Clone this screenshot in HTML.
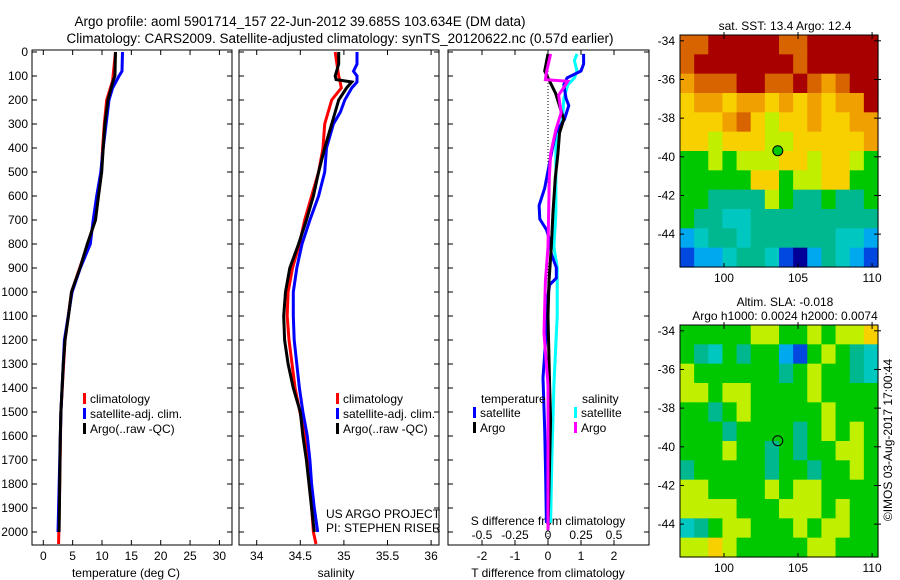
<!DOCTYPE html>
<html><head><meta charset="utf-8">
<style>
body{margin:0;background:#fff;}
svg{display:block;font-family:"Liberation Sans",sans-serif;}
text{fill:#000;}
</style></head>
<body>
<svg id="chart" width="900" height="580" viewBox="0 0 900 580" xmlns="http://www.w3.org/2000/svg">
<rect width="900" height="580" fill="#fff"/>
<text x="300" y="26" font-size="13.5" text-anchor="middle">Argo profile: aoml 5901714_157 22-Jun-2012 39.685S 103.634E (DM data)</text>
<text x="340" y="43" font-size="13.5" text-anchor="middle">Climatology: CARS2009. Satellite-adjusted climatology: synTS_20120622.nc (0.57d earlier)</text>
<g id="plots"></g>
</svg>
<script>
// ---- Temperature profile data (depth m, deg C)
const tArgoDepth=[0,100,120,200,300,400,500,600,700,750,800,900,1000,1100,1200,1300,1400,1500,1600,1800,2000];
const tArgoVal=[12.3,12.2,11.9,11.0,10.5,10.2,9.95,9.4,8.9,8.2,7.5,6.25,4.8,4.3,3.7,3.4,3.2,3.0,2.9,2.8,2.7];
const tSatDepth=[0,80,100,150,200,300,400,500,600,700,800,900,1000,1200,1500,2000];
const tSatVal=[13.5,13.4,12.9,11.8,11.2,10.7,10.2,9.8,9.1,8.5,8.0,6.3,4.9,3.6,3.0,2.5];
const tClimDepth=[0,120,200,300,400,500,600,700,800,900,1000,1200,1500,1800,2050];
const tClimVal=[12.3,11.8,10.8,10.4,10.1,9.9,9.3,8.8,7.6,6.2,4.8,3.7,3.0,2.8,2.6];
// ---- Salinity profile data
const sArgoDepth=[0,50,100,115,125,150,200,250,300,400,500,600,700,800,900,1000,1100,1200,1300,1400,1500,1600,1700,1800,1900,2000];
const sArgoVal=[34.94,34.94,34.90,34.91,35.09,35.03,34.94,34.90,34.86,34.78,34.71,34.65,34.57,34.48,34.38,34.33,34.31,34.32,34.36,34.42,34.50,34.53,34.57,34.60,34.63,34.66];
const sSatDepth=[0,50,80,100,125,150,200,250,300,400,500,600,700,800,900,1000,1100,1200,1400,1500,1600,1700,1800,1900,2000];
const sSatVal=[35.15,35.15,35.11,35.15,35.15,35.09,35.01,34.96,34.88,34.80,34.78,34.71,34.61,34.52,34.46,34.42,34.42,34.43,34.49,34.53,34.58,34.61,34.63,34.66,34.70];
const sClimDepth=[0,100,130,150,200,250,300,400,500,600,700,800,900,1000,1100,1200,1400,1600,1800,2000,2050];
const sClimVal=[34.90,34.94,34.96,34.97,34.86,34.82,34.78,34.76,34.71,34.63,34.55,34.49,34.41,34.36,34.35,34.37,34.44,34.55,34.61,34.65,34.68];
// ---- Difference from climatology
const dTSatDepth=[8,50,79,108,137,194,223,280,338,424,567,640,696,740,783,841,898,942,970,1013,1157,1358,1573,1775,1962];
const dTSatVal=[1.08,1.08,1.0,0.58,0.48,0.55,0.63,0.5,0.23,0.1,-0.1,-0.27,-0.25,-0.05,0.05,0.1,0.25,0.25,0.05,0,-0.05,-0.15,-0.1,-0.07,-0.05];
const dTArgoDepth=[8,79,108,172,237,280,338,424,524,667,813,955,1100,1388,1530,1817,1992];
const dTArgoVal=[0,-0.1,0,0.23,0.38,0.48,0.35,0.3,0.22,0.15,0.1,0.03,0,0.05,0.08,0.03,0];
const dSSatDepth=[8,36,79,108,137,194,280,381,524,667,813,898,1100,1388,1674,1962];
const dSSatVal=[0.22,0.2,0.22,0.2,0.15,0.12,0.11,0.06,0.06,0.06,0.045,0.07,0.07,0.045,0.03,0.02];
const dSArgoDepth=[8,79,115,122,180,252,324,424,524,813,955,1171,1388,1674,1992];
const dSArgoVal=[0.02,-0.01,-0.02,0.15,0.08,0.1,0.06,0.02,0.01,0,-0.02,-0.03,0,0,0];
// ---- Tick labels
const depthTicks=[0,100,200,300,400,500,600,700,800,900,1000,1100,1200,1300,1400,1500,1600,1700,1800,1900,2000];
const tempTicks=[0,5,10,15,20,25,30];
const salTicks=["34","34.5","35","35.5","36"];
const dTTicks=[-2,-1,0,1,2];
const dSTicks=["-0.5","-0.25","0","0.25","0.5"];
const lonTicks=[100,105,110];
const latTicks=[-34,-36,-38,-40,-42,-44];
// ---- Map grids (colour class per cell, row 0 = north)
const sstGrid=["99AAAAA99AAAAA","9AAAAAAA9AAAAA","8999AA99A989AA","78878878787 88A".replace(' ',''),"77789767787788","77677766777778","55656667767765","55555775667755","55444465445445","54433444444444","23443444444332","12234431024321"];
const slaGrid=["55555665565667","54354552156543","65555554565543","66566555565555","55456555556555","55545555456565","55565545455665","45555545545565","66555565665555","66665556665655","34566555656655","66765555566555"];
const argoLon=103.634, argoLat=-39.685;

const palette={'0':'#000098','1':'#0048e0','2':'#00a8f0','3':'#00c8c0','4':'#00b890','5':'#00c800','6':'#c0f000','7':'#f8d000','8':'#f0a000','9':'#d86400','A':'#a80000'};
const NS="http://www.w3.org/2000/svg";
const G=document.getElementById('plots');
function mk(tag,attrs,parent){const e=document.createElementNS(NS,tag);for(const k in attrs)e.setAttribute(k,attrs[k]);(parent||G).appendChild(e);return e;}
function txt(s,x,y,size,anchor,parent){const t=mk('text',{x:x,y:y,'font-size':size,'text-anchor':anchor||'middle'},parent);t.textContent=s;return t;}

const TOP=50,BOT=545;
const yD=d=>52+0.24*d;
const xT=v=>43.3+5.87*v;
const xS=v=>256.7+87.2*(v-34);
const xDT=v=>548+33*v;
const xDS=v=>548+132*v;

function panel(name,x0,x1){
  const g=mk('g',{});
  
  
  mk('rect',{x:x0,y:TOP,width:x1-x0,height:BOT-TOP,fill:'none',stroke:'#000','stroke-width':1},g);
  depthTicks.forEach(d=>{const y=yD(d);mk('line',{x1:x0,x2:x0+5,y1:y,y2:y,stroke:'#000'},g);mk('line',{x1:x1-5,x2:x1,y1:y,y2:y,stroke:'#000'},g);});
  return g;
}
function line(name,ds,vs,fx,color,g,w){
  const pts=ds.map((d,i)=>fx(vs[i]).toFixed(1)+','+yD(d).toFixed(1)).join(' ');
  const p=mk('polyline',{points:pts,fill:'none',stroke:color,'stroke-width':w||3,'stroke-linejoin':'miter'},g);
  
  
}
function legend(items,x,y,g){
  items.forEach((it,i)=>{
    const yy=y+i*15;
    const r=mk('rect',{x:x,y:yy-10,width:3,height:11,fill:it[1]},g);
    
    
    const t=txt(it[0],x+7,yy,12,'start',g);
    
    
  });
}

// Panel 1 temperature
const g1=panel('temperature-panel',32,232);
depthTicks.forEach(d=>{const t=txt(String(d),28,yD(d)+4,12,'end',g1);});
tempTicks.forEach(v=>{const x=xT(v);mk('line',{x1:x,x2:x,y1:TOP,y2:TOP+5,stroke:'#000'},g1);mk('line',{x1:x,x2:x,y1:BOT-5,y2:BOT,stroke:'#000'},g1);const t=txt(String(v),x,560,12,'middle',g1);});
const xt1=txt('temperature (deg C)',126,577,12,'middle',g1);
line('climatology-temperature-line',tClimDepth,tClimVal,xT,'#ff0000',g1);
line('satellite-temperature-line',tSatDepth,tSatVal,xT,'#0000ff',g1);
line('argo-temperature-line',tArgoDepth,tArgoVal,xT,'#000000',g1);
legend([['climatology','#ff0000'],['satellite-adj. clim.','#0000ff'],['Argo(..raw -QC)','#000000']],83,403,g1);

// Panel 2 salinity
const g2=panel('salinity-panel',239,439);
salTicks.forEach(s=>{const x=xS(parseFloat(s));mk('line',{x1:x,x2:x,y1:TOP,y2:TOP+5,stroke:'#000'},g2);mk('line',{x1:x,x2:x,y1:BOT-5,y2:BOT,stroke:'#000'},g2);const t=txt(s,x,560,12,'middle',g2);});
const xt2=txt('salinity',336,577,12,'middle',g2);
line('climatology-salinity-line',sClimDepth,sClimVal,xS,'#ff0000',g2);
line('satellite-salinity-line',sSatDepth,sSatVal,xS,'#0000ff',g2);
line('argo-salinity-line',sArgoDepth,sArgoVal,xS,'#000000',g2);
legend([['climatology','#ff0000'],['satellite-adj. clim.','#0000ff'],['Argo(..raw -QC)','#000000']],336,403,g2);
const c1=txt('US ARGO PROJECT',326,518,12,'start',g2);
const c2=txt('PI: STEPHEN RISER',326,532,12,'start',g2);

// Panel 3 differences
const g3=panel('difference-panel',448,649);
mk('line',{x1:548,x2:548,y1:TOP,y2:BOT,stroke:'#000','stroke-dasharray':'1,2','stroke-width':1},g3);
dTTicks.forEach(v=>{const x=xDT(v);mk('line',{x1:x,x2:x,y1:BOT-5,y2:BOT,stroke:'#000'},g3);mk('line',{x1:x,x2:x,y1:TOP,y2:TOP+5,stroke:'#000'},g3);const t=txt(String(v),x,560,12,'middle',g3);});
dSTicks.forEach(s=>{const t=txt(s,xDS(parseFloat(s)),539,12,'middle',g3);});
const st=txt('S difference from climatology',548,525,12,'middle',g3);
const tt=txt('T difference from climatology',548,577,12,'middle',g3);
line('salinity-satellite-diff-line',dSSatDepth,dSSatVal,xDS,'#00ffff',g3);
line('temperature-satellite-diff-line',dTSatDepth,dTSatVal,xDT,'#0000ff',g3);
line('temperature-argo-diff-line',dTArgoDepth,dTArgoVal,xDT,'#000000',g3);
line('salinity-argo-diff-line',dSArgoDepth,dSArgoVal,xDS,'#ff00ff',g3);
const lt=txt('temperature',481,403,12,'start',g3);
const ls=txt('salinity',582,403,12,'start',g3);
legend([['satellite','#0000ff'],['Argo','#000000']],473,417,g3);
legend([['satellite','#00ffff'],['Argo','#ff00ff']],574,417,g3);

// Maps
const LON0=97.03,LON1=110.4,LAT0=-33.7,LAT1=-45.7;
function map(name,top,grid,title,filled){
  const L=680,R=878,H=232,B=top+H;
  const g=mk('g',{});
  
  
  const fx=lon=>L+(lon-LON0)/(LON1-LON0)*(R-L);
  const fy=lat=>top+(lat-LAT0)/(LAT1-LAT0)*H;
  const rows=grid.length,cols=grid[0].length;
  grid.forEach((row,ri)=>{for(let ci=0;ci<cols;ci++){
    const c=mk('rect',{x:L+ci*(R-L)/cols,y:top+ri*H/rows,width:(R-L)/cols+0.6,height:H/rows+0.6,fill:palette[row[ci]]||'#00c800'},g);
    
    
  }});
  mk('rect',{x:L,y:top,width:R-L,height:H,fill:'none',stroke:'#000'},g);
  latTicks.forEach(v=>{const y=fy(v);mk('line',{x1:L,x2:L+4,y1:y,y2:y,stroke:'#000'},g);mk('line',{x1:R-4,x2:R+3,y1:y,y2:y,stroke:'#000'},g);const t=txt(String(v),675,y+4,12,'end',g);});
  lonTicks.forEach(v=>{const x=fx(v);mk('line',{x1:x,x2:x,y1:top-3,y2:top+4,stroke:'#000'},g);mk('line',{x1:x,x2:x,y1:B-4,y2:B,stroke:'#000'},g);const t=txt(String(v),x,B+15,12,'middle',g);});
  const m=mk('circle',{cx:fx(argoLon),cy:fy(argoLat),r:5,fill:filled?'#00c800':'none',stroke:'#000','stroke-width':1},g);
  
  
  title.forEach((s,i)=>{const t=txt(s,785,top-(title.length-1-i)*14-5,12,'middle',g);});
}
map('sst-map',35,sstGrid,['sat. SST: 13.4 Argo: 12.4'],true);
map('sla-map',325,slaGrid,['Altim. SLA: -0.018','Argo h1000: 0.0024 h2000: 0.0074'],false);
const cr=txt('©IMOS 03-Aug-2017 17:00:44',0,0,12,'middle');
cr.setAttribute('transform','translate(892,440) rotate(-90)');


</script>
</body></html>
